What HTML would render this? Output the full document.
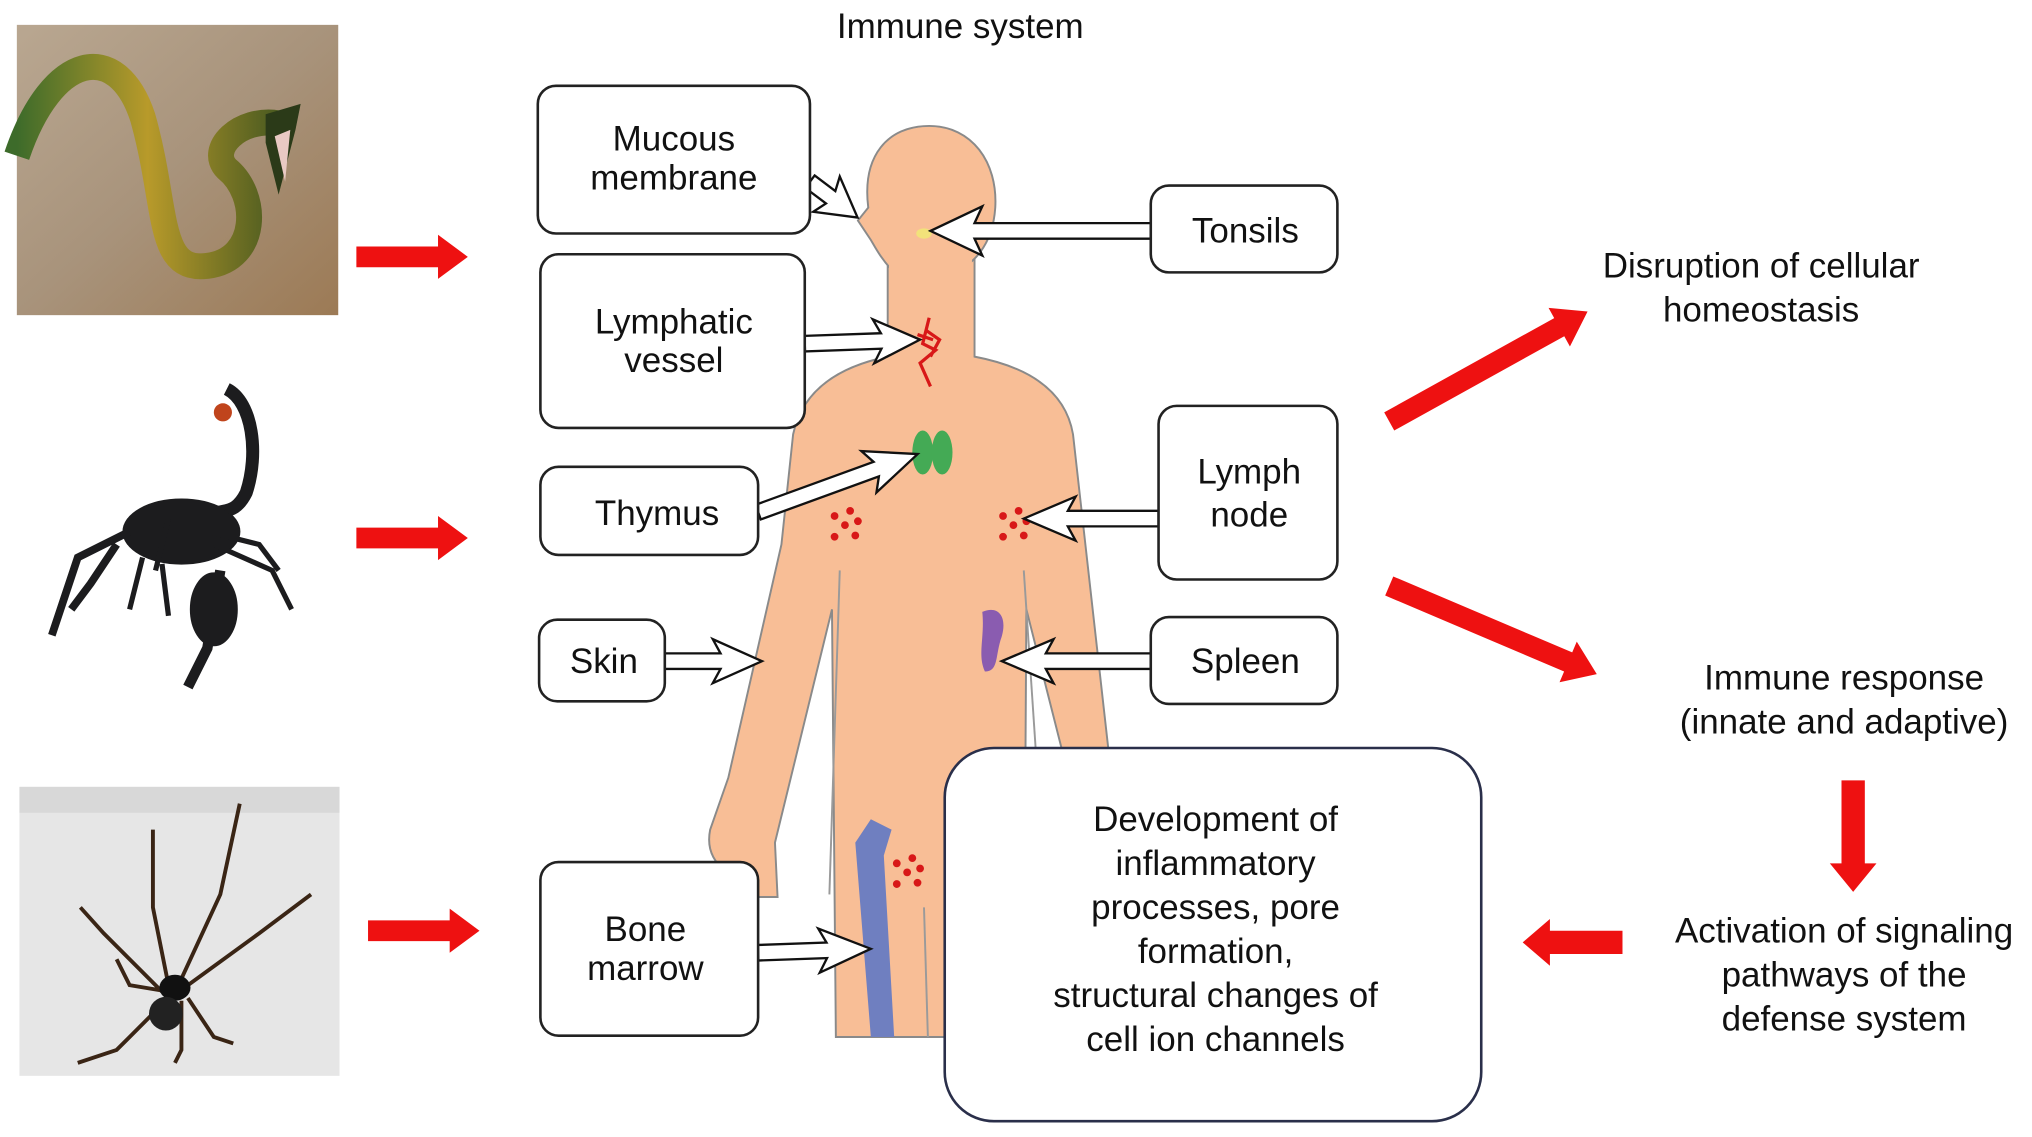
<!DOCTYPE html>
<html><head><meta charset="utf-8"><style>
html,body{margin:0;padding:0;background:#fff;}
svg{display:block;}
text{font-family:"Liberation Sans",Arial,sans-serif;fill:#111;}
</style></head><body>
<svg width="2032" height="1137" viewBox="0 0 1568 877" xmlns="http://www.w3.org/2000/svg">
<defs>
<linearGradient id="sg" x1="0" y1="0" x2="1" y2="1">
<stop offset="0" stop-color="#b9a791"/><stop offset="0.5" stop-color="#a8937b"/><stop offset="1" stop-color="#9c7a55"/></linearGradient>
<linearGradient id="snk" x1="0" y1="0" x2="1" y2="0">
<stop offset="0" stop-color="#3d6b2a"/><stop offset="0.5" stop-color="#b89a2a"/><stop offset="1" stop-color="#4a5a20"/></linearGradient>
</defs>
<rect width="1568" height="877" fill="#fff"/>
<!-- snake photo -->
<rect x="13" y="19" width="248" height="224" fill="url(#sg)"/>
<path d="M13,120 C40,40 90,30 110,90 C130,160 120,210 160,205 C200,200 200,150 175,130 C160,115 185,90 215,95" fill="none" stroke="url(#snk)" stroke-width="20" stroke-linecap="butt"/>
<path d="M205,88 L232,80 L228,100 L215,150 L205,110 Z" fill="#2b3a18"/>
<path d="M212,105 L224,100 L220,140 Z" fill="#e9c9c3"/>
<!-- scorpion -->
<g fill="#1c1c1e" stroke="#1c1c1e">
<path d="M175,300 C195,310 200,350 190,380 C180,400 170,390 160,400" fill="none" stroke-width="10"/>
<circle cx="172" cy="318" r="7" fill="#c0441c" stroke="none"/>
<ellipse cx="140" cy="410" rx="45" ry="25"/>
<ellipse cx="165" cy="470" rx="18" ry="28"/>
<path d="M100,410 L60,430 L40,490 M90,420 L70,450 L55,470" fill="none" stroke-width="6"/>
<path d="M170,440 L160,500 L145,530" fill="none" stroke-width="8"/>
<path d="M110,430 L100,470 M125,435 L130,475 M165,420 L210,440 L225,470 M160,410 L200,420 L215,440 M130,400 L120,440" fill="none" stroke-width="4"/>
</g>
<!-- spider photo -->
<rect x="15" y="607" width="247" height="223" fill="#e6e6e6"/>
<rect x="15" y="607" width="247" height="20" fill="#d8d8d8"/>
<g stroke="#3a2515" stroke-width="3" fill="none">
<path d="M130,760 L118,700 L118,640 M140,755 L170,690 L185,620 M125,765 L80,720 L62,700 M145,760 L200,720 L240,690 M130,765 L100,760 L90,740 M145,770 L165,800 L180,805 M128,772 L90,810 L60,820 M140,772 L140,810 L135,820"/>
</g>
<ellipse cx="135" cy="762" rx="12" ry="10" fill="#111"/>
<ellipse cx="128" cy="782" rx="13" ry="13" fill="#222"/>
<!-- red arrows -->
<g fill="#ee1111">
<g transform="translate(275,198)"><polygon points="0,-8 63,-8 63,-17 86,0 63,17 63,8 0,8"/></g>
<g transform="translate(275,415)"><polygon points="0,-8 63,-8 63,-17 86,0 63,17 63,8 0,8"/></g>
<g transform="translate(284,718)"><polygon points="0,-8 63,-8 63,-17 86,0 63,17 63,8 0,8"/></g>
<g transform="translate(1072,325) rotate(-29)"><polygon points="0,-8 150,-8 150,-17 175,0 150,17 150,8 0,8"/></g>
<g transform="translate(1072,452) rotate(23)"><polygon points="0,-8 150,-8 150,-17 174,0 150,17 150,8 0,8"/></g>
<g transform="translate(1430,602) rotate(90)"><polygon points="0,-9 64,-9 64,-18 86,0 64,18 64,9 0,9"/></g>
<g transform="translate(1252,727) rotate(180)"><polygon points="0,-9 56,-9 56,-18 77,0 56,18 56,9 0,9"/></g>
</g>
<!-- body -->
<g fill="#f8be96" stroke="#8a8a8a" stroke-width="1.5">
<path d="M685,195 L685,275 Q622,288 612,335 L603,420 L562,600 L548,640 Q544,660 560,672 L585,692 L600,692 L598,650 L642,470 L645,800 L790,800 L792,470 L830,620 L860,620 L828,335 Q820,288 752,275 L752,195 Z"/>
<path d="M717,97 C750,97 770,125 768,160 C766,190 750,205 735,210 L690,210 C680,200 675,190 672,185 L662,170 L670,160 C665,120 685,97 717,97 Z"/>
</g>
<rect x="686" y="195" width="64" height="30" fill="#f8be96"/>
<g stroke="#9a9a9a" stroke-width="1.5" fill="none">
<path d="M648,440 L640,690"/><path d="M790,440 L800,590"/><path d="M713,700 L716,800"/>
</g>
<!-- organs -->
<ellipse cx="713" cy="180" rx="6" ry="4" fill="#f2e27a"/>
<path d="M717,245 L712,265 L722,270 L710,280 L718,298 M715,255 L725,262 L718,275 M708,258 L720,262" stroke="#d81818" stroke-width="2.5" fill="none"/>
<ellipse cx="712" cy="349" rx="8" ry="17" fill="#44aa55"/>
<ellipse cx="727" cy="349" rx="8" ry="17" fill="#44aa55"/>
<g fill="#d81818">
<circle cx="644" cy="398" r="3"/><circle cx="656" cy="394" r="3"/><circle cx="652" cy="405" r="3"/><circle cx="644" cy="414" r="3"/><circle cx="660" cy="413" r="3"/><circle cx="662" cy="402" r="3"/>
<circle cx="774" cy="398" r="3"/><circle cx="786" cy="394" r="3"/><circle cx="782" cy="405" r="3"/><circle cx="774" cy="414" r="3"/><circle cx="790" cy="413" r="3"/><circle cx="792" cy="402" r="3"/>
<circle cx="692" cy="666" r="3"/><circle cx="704" cy="662" r="3"/><circle cx="700" cy="673" r="3"/><circle cx="692" cy="682" r="3"/><circle cx="708" cy="681" r="3"/><circle cx="710" cy="670" r="3"/>
</g>
<path d="M758,472 C772,466 778,478 772,494 C768,508 770,518 760,518 C754,505 760,492 758,472 Z" fill="#8a5cb0"/>
<path d="M660,650 L672,632 L688,640 L682,660 L690,800 L672,800 Z" fill="#6f7fc0"/>
<!-- hollow arrows -->
<g fill="#fff" stroke="#111" stroke-width="1.8">
<g transform="translate(625,140) rotate(37)"><polygon points="0,-6 20,-6 16,-17 46,0 16,17 20,6 0,6"/></g>
<g transform="translate(888,178) rotate(180)"><polygon points="0,-6 136,-6 130,-19 170,0 130,19 136,6 0,6"/></g>
<g transform="translate(621,265) rotate(-2)"><polygon points="0,-6 59,-6 53,-17 89,0 53,17 59,6 0,6"/></g>
<g transform="translate(585,395) rotate(-20)"><polygon points="0,-6 97,-6 91,-17 131,0 91,17 97,6 0,6"/></g>
<g transform="translate(894,400) rotate(180)"><polygon points="0,-6 70,-6 64,-17 104,0 64,17 70,6 0,6"/></g>
<g transform="translate(513,510)"><polygon points="0,-6 43,-6 37,-17 75,0 37,17 43,6 0,6"/></g>
<g transform="translate(888,510) rotate(180)"><polygon points="0,-6 81,-6 75,-17 115,0 75,17 81,6 0,6"/></g>
<g transform="translate(585,735) rotate(-2)"><polygon points="0,-6 53,-6 47,-17 87,0 47,17 53,6 0,6"/></g>
</g>
<!-- boxes -->
<g fill="#fff" stroke="#222" stroke-width="2">
<rect x="415" y="66" width="210" height="114" rx="14"/>
<rect x="417" y="196" width="204" height="134" rx="14"/>
<rect x="417" y="360" width="168" height="68" rx="14"/>
<rect x="416" y="478" width="97" height="63" rx="14"/>
<rect x="417" y="665" width="168" height="134" rx="14"/>
<rect x="888" y="143" width="144" height="67" rx="14"/>
<rect x="894" y="313" width="138" height="134" rx="14"/>
<rect x="888" y="476" width="144" height="67" rx="14"/>
<rect x="729" y="577" width="414" height="288" rx="38" stroke="#2a2f4a"/>
</g>
<g font-size="27" text-anchor="middle">
<text x="741" y="29">Immune system</text>
<text x="520" y="116">Mucous</text><text x="520" y="146">membrane</text>
<text x="520" y="257">Lymphatic</text><text x="520" y="287">vessel</text>
<text x="507" y="405">Thymus</text>
<text x="466" y="519">Skin</text>
<text x="498" y="726">Bone</text><text x="498" y="756">marrow</text>
<text x="961" y="187">Tonsils</text>
<text x="964" y="373">Lymph</text><text x="964" y="406">node</text>
<text x="961" y="519">Spleen</text>
<text x="938" y="641">Development of</text>
<text x="938" y="675">inflammatory</text>
<text x="938" y="709">processes, pore</text>
<text x="938" y="743">formation,</text>
<text x="938" y="777">structural changes of</text>
<text x="938" y="811">cell ion channels</text>
<text x="1359" y="214">Disruption of cellular</text>
<text x="1359" y="248">homeostasis</text>
<text x="1423" y="532">Immune response</text>
<text x="1423" y="566">(innate and adaptive)</text>
<text x="1423" y="727">Activation of signaling</text>
<text x="1423" y="761">pathways of the</text>
<text x="1423" y="795">defense system</text>
</g>
</svg>
</body></html>
